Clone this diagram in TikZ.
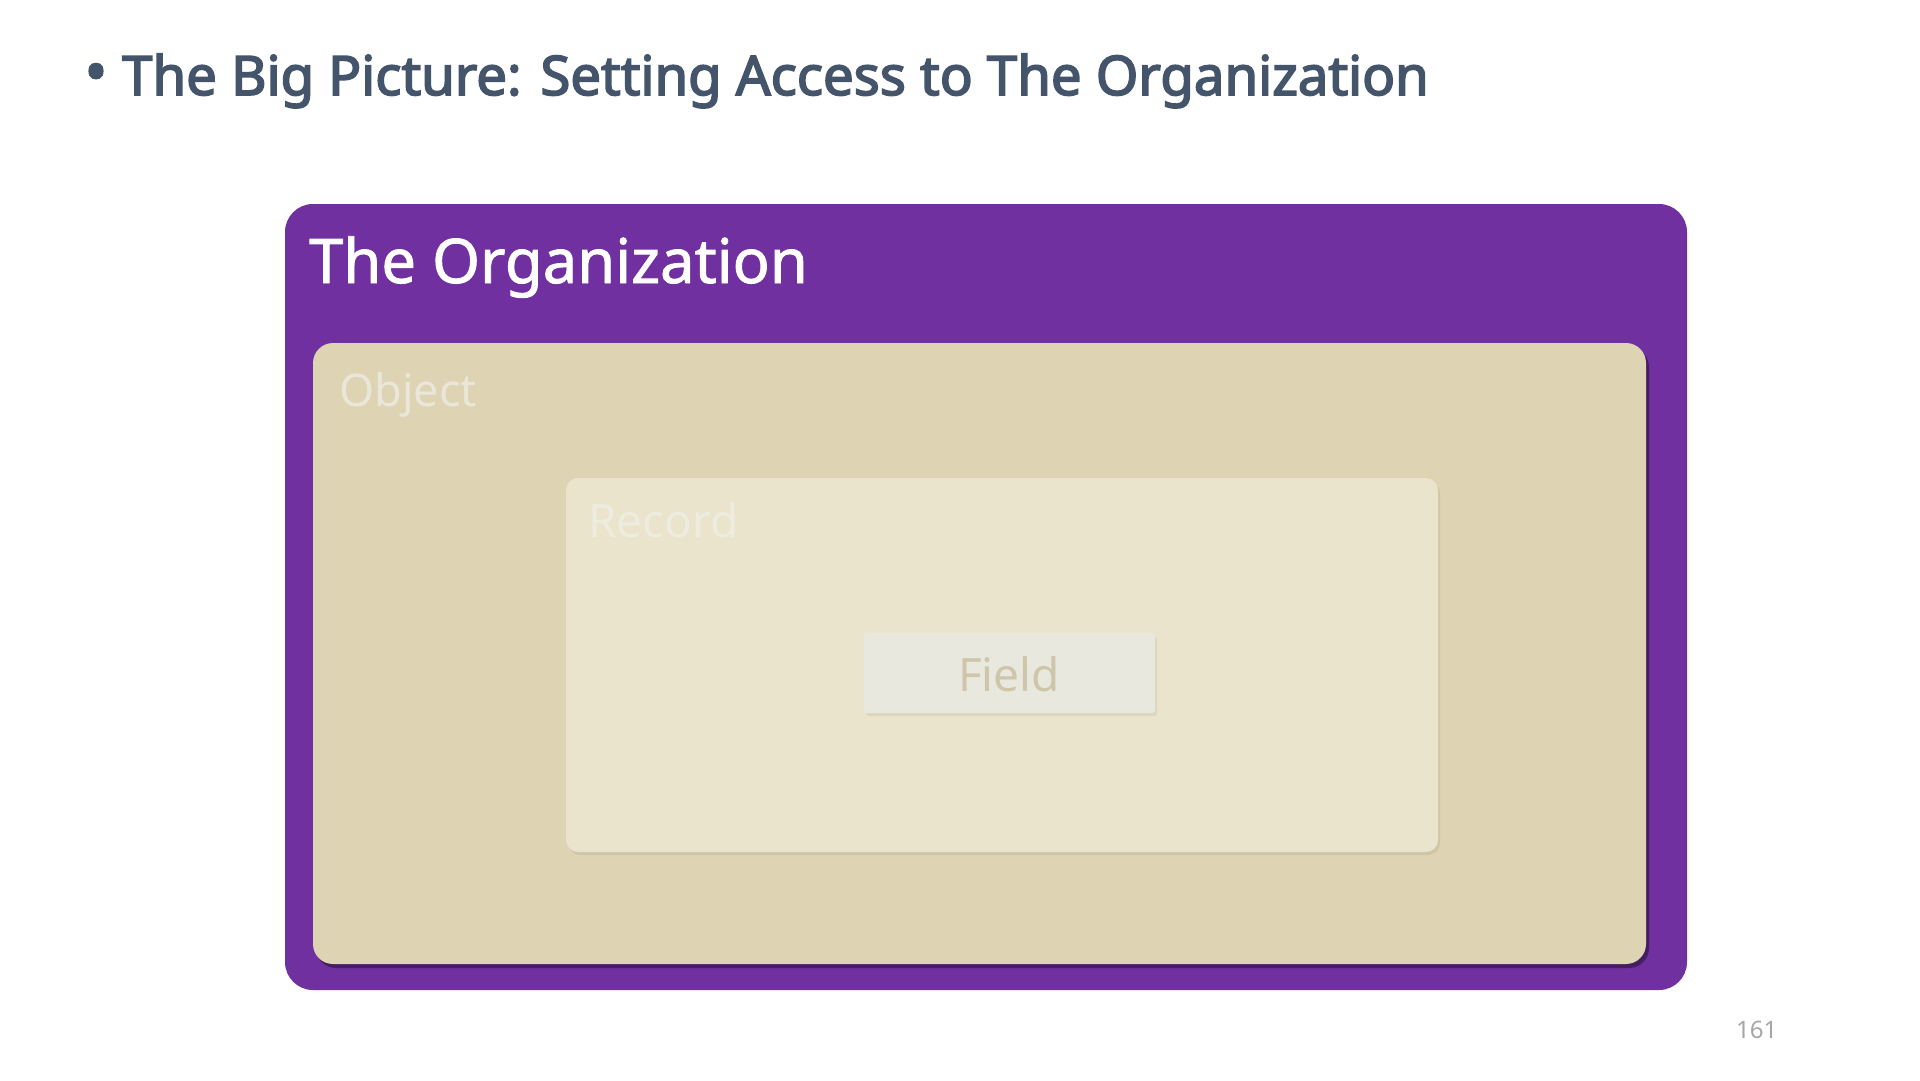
\documentclass[tikz,border=0pt]{standalone}
\usepackage{fontspec}
\setmainfont{Noto Sans}
\newfontfamily\headfont{Noto Sans}[FakeBold=3]
\newfontfamily\orgfont{Noto Sans}[FakeBold=1.4]
\usetikzlibrary{shadows}

\definecolor{orgpurple}{HTML}{7030A0}
\definecolor{objectfill}{HTML}{DED3B2}
\definecolor{recordfill}{HTML}{EAE4CC}
\definecolor{fieldfill}{HTML}{E9E8DF}
\definecolor{headgray}{HTML}{44546A}
\definecolor{objecttext}{HTML}{EAE6DA}
\definecolor{recordtext}{HTML}{EEEBDF}
\definecolor{fieldtext}{HTML}{CFC6AA}
\definecolor{pagegray}{HTML}{A6A6A6}

\begin{document}
\begin{tikzpicture}[
        x=1pt, y=-1pt,
        box/.style={rectangle, inner sep=0pt, outer sep=0pt},
        org_box/.style={box, fill=orgpurple, rounded corners=28pt, minimum width=1402pt, minimum height=786pt},
        object_box/.style={box, fill=objectfill, rounded corners=20pt, minimum width=1333pt, minimum height=621pt,
            drop shadow={shadow xshift=3pt, shadow yshift=-4pt, fill=black!75!orgpurple, opacity=0.5}},
        record_box/.style={box, fill=recordfill, rounded corners=12pt, minimum width=872pt, minimum height=374pt,
            drop shadow={shadow xshift=2pt, shadow yshift=-3pt, fill=black!20!objectfill, opacity=0.3}},
        field_box/.style={box, fill=fieldfill, rounded corners=3pt, minimum width=291pt, minimum height=80pt,
            drop shadow={shadow xshift=2pt, shadow yshift=-3pt, fill=black!15!recordfill, opacity=0.4}},
        box_label/.style={inner sep=0pt, anchor=base west}
    ]
        \useasboundingbox[fill=white] (0,0) rectangle (1920,1080);

        % Heading
        \node[inner sep=0pt, anchor=base, text=headgray, font=\headfont\fontsize{60}{60}\selectfont] (heading_bullet) at (96,93) {•};
        \node[box_label, text=headgray, font=\headfont\fontsize{54.5}{54.5}\selectfont] (heading) at (122,95) {The Big Picture: Setting Access to The Organization};

        % Nested boxes
        \node[org_box] (org) at (986,597) {};
        \node[object_box] (object) at (979.5,653.5) {};
        \node[record_box] (record) at (1002,665) {};
        \node[field_box] (field) at (1009.5,673) {};

        % Labels
        \node[box_label, text=white, font=\orgfont\fontsize{61.5}{61.5}\selectfont] (org_label) at (309,283) {The Organization};
        \node[box_label, text=objecttext, font=\fontsize{45}{45}\selectfont] (object_label) at (339,406) {Object};
        \node[box_label, text=recordtext, font=\fontsize{46}{46}\selectfont] (record_label) at (588,537) {Record};
        \node[inner sep=0pt, anchor=base, text=fieldtext, font=\fontsize{46}{46}\selectfont] (field_label) at (1009,691) {Field};

        % Page number
        \node[box_label, text=pagegray, font=\fontsize{24}{24}\selectfont] (page_number) at (1736,1038) {161};

    \end{tikzpicture}
\end{document}
